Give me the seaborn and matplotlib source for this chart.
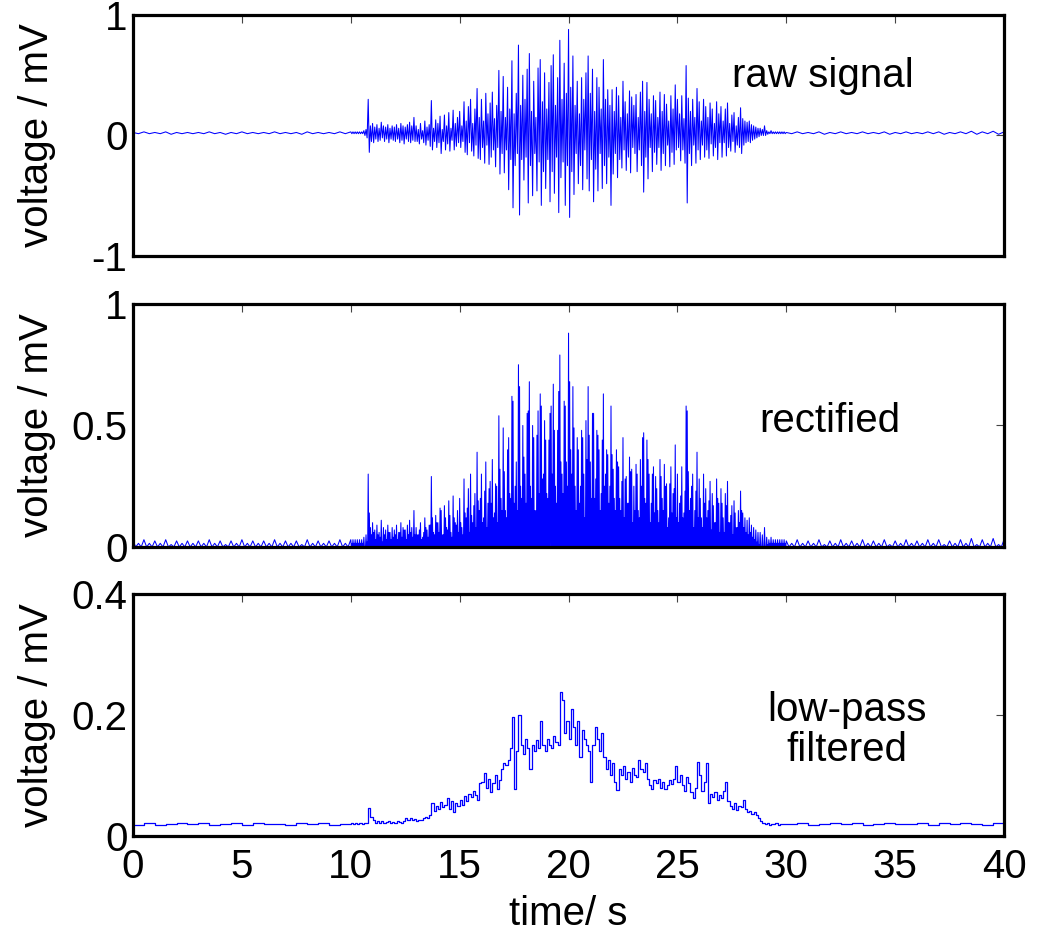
import numpy as np
import pandas as pd
import seaborn as sns
import matplotlib.pyplot as plt

# ---- raw signal, quiet part before the burst (one peak / one trough every 0.5 s, 0 - 9.5 s)
quiet_pre_hi = [0.025, 0.03, 0.025, 0.03, 0.025, 0.025, 0.025, 0.03, 0.025, 0.025,
                0.03, 0.025, 0.025, 0.03, 0.025, 0.025, 0.03, 0.025, 0.025, 0.03]
quiet_pre_lo = [0.015, 0.015, 0.015, 0.01, 0.015, 0.015, 0.015, 0.015, 0.01, 0.015,
                0.015, 0.015, 0.015, 0.015, 0.015, 0.01, 0.015, 0.015, 0.015, 0.015]

# ---- raw signal, burst part (one peak / one trough every 0.1 s, 10.0 - 29.9 s)
burst_hi = [
    0.03, 0.03, 0.03, 0.03, 0.03, 0.03, 0.04, 0.05, 0.30, 0.08,   # 10 s
    0.10, 0.07, 0.09, 0.06, 0.11, 0.08, 0.07, 0.09, 0.06, 0.08,   # 11 s
    0.07, 0.09, 0.06, 0.10, 0.08, 0.07, 0.09, 0.11, 0.08, 0.15,   # 12 s
    0.08, 0.05, 0.10, 0.04, 0.12, 0.07, 0.09, 0.29, 0.06, 0.13,   # 13 s
    0.10, 0.16, 0.05, 0.17, 0.08, 0.19, 0.06, 0.21, 0.10, 0.15,   # 14 s
    0.20, 0.08, 0.28, 0.12, 0.24, 0.30, 0.10, 0.22, 0.39, 0.15,   # 15 s
    0.30, 0.12, 0.35, 0.18, 0.27, 0.36, 0.14, 0.25, 0.54, 0.20,   # 16 s
    0.49, 0.15, 0.40, 0.22, 0.62, 0.18, 0.35, 0.75, 0.25, 0.50,   # 17 s
    0.30, 0.55, 0.68, 0.20, 0.45, 0.15, 0.56, 0.63, 0.28, 0.52,   # 18 s
    0.22, 0.44, 0.58, 0.67, 0.25, 0.48, 0.79, 0.30, 0.60, 0.35,   # 19 s
    0.88, 0.40, 0.66, 0.25, 0.45, 0.18, 0.48, 0.30, 0.52, 0.66,   # 20 s
    0.35, 0.55, 0.20, 0.48, 0.40, 0.22, 0.63, 0.30, 0.38, 0.25,   # 21 s
    0.38, 0.20, 0.40, 0.33, 0.15, 0.45, 0.28, 0.18, 0.37, 0.32,   # 22 s
    0.25, 0.34, 0.15, 0.36, 0.45, 0.20, 0.44, 0.30, 0.18, 0.33,   # 23 s
    0.29, 0.15, 0.36, 0.20, 0.34, 0.26, 0.12, 0.33, 0.22, 0.42,   # 24 s
    0.30, 0.18, 0.33, 0.14, 0.58, 0.31, 0.20, 0.30, 0.15, 0.39,   # 25 s
    0.28, 0.12, 0.30, 0.24, 0.15, 0.27, 0.22, 0.10, 0.28, 0.18,   # 26 s
    0.24, 0.12, 0.22, 0.27, 0.10, 0.17, 0.19, 0.08, 0.15, 0.23,   # 27 s
    0.14, 0.12, 0.11, 0.12, 0.09, 0.08, 0.07, 0.06, 0.06, 0.05,   # 28 s
    0.08, 0.04, 0.03, 0.04, 0.03, 0.03, 0.03, 0.03, 0.03, 0.03,   # 29 s
]
burst_lo = [
    0.015, 0.015, 0.015, 0.015, 0.015, 0.015, 0.00, -0.02, -0.14, -0.05,
    -0.06, -0.03, -0.05, -0.04, -0.02, -0.05, -0.03, -0.06, -0.03, -0.04,
    -0.05, -0.03, -0.06, -0.04, -0.07, -0.03, -0.05, -0.06, -0.04, -0.05,
    -0.05, -0.07, -0.03, -0.06, -0.08, -0.04, -0.09, -0.12, -0.05, -0.10,
    -0.06, -0.15, -0.05, -0.12, -0.07, -0.13, -0.04, -0.12, -0.09, -0.06,
    -0.10, -0.05, -0.14, -0.16, -0.06, -0.13, -0.17, -0.08, -0.19, -0.20,
    -0.10, -0.23, -0.08, -0.24, -0.18, -0.12, -0.26, -0.10, -0.32, -0.15,
    -0.31, -0.12, -0.45, -0.20, -0.60, -0.25, -0.15, -0.66, -0.20, -0.37,
    -0.18, -0.56, -0.25, -0.50, -0.15, -0.46, -0.22, -0.58, -0.30, -0.44,
    -0.20, -0.55, -0.30, -0.48, -0.18, -0.64, -0.35, -0.22, -0.58, -0.25,
    -0.68, -0.30, -0.49, -0.15, -0.40, -0.25, -0.45, -0.12, -0.36, -0.46,
    -0.20, -0.55, -0.28, -0.46, -0.15, -0.44, -0.25, -0.40, -0.18, -0.58,
    -0.32, -0.15, -0.35, -0.20, -0.27, -0.12, -0.29, -0.18, -0.31, -0.10,
    -0.15, -0.30, -0.12, -0.25, -0.47, -0.18, -0.36, -0.10, -0.30, -0.14,
    -0.24, -0.10, -0.29, -0.15, -0.25, -0.08, -0.26, -0.14, -0.24, -0.12,
    -0.10, -0.21, -0.12, -0.23, -0.56, -0.15, -0.25, -0.08, -0.23, -0.12,
    -0.20, -0.08, -0.18, -0.12, -0.19, -0.07, -0.17, -0.10, -0.20, -0.06,
    -0.18, -0.06, -0.17, -0.10, -0.13, -0.05, -0.14, -0.08, -0.10, -0.15,
    -0.08, -0.06, -0.05, -0.06, -0.04, -0.03, -0.02, -0.01, 0.00, 0.00,
    0.00, 0.01, 0.015, 0.015, 0.015, 0.015, 0.015, 0.015, 0.015, 0.015,
]

# ---- raw signal, quiet part after the burst (every 0.5 s, 30 - 40 s)
quiet_post_hi = [0.025, 0.03, 0.025, 0.03, 0.025, 0.03, 0.025, 0.03, 0.025, 0.03,
                 0.025, 0.03, 0.025, 0.03, 0.03, 0.025, 0.03, 0.035, 0.03, 0.035, 0.03]
quiet_post_lo = [0.015, 0.015, 0.015, 0.01, 0.015, 0.015, 0.015, 0.015, 0.015, 0.01,
                 0.015, 0.015, 0.015, 0.015, 0.01, 0.015, 0.015, 0.01, 0.015, 0.01, 0.015]

# ---- low-pass filtered envelope
lp_pre = [0.018, 0.021, 0.018, 0.020, 0.022, 0.019, 0.021, 0.018, 0.020, 0.021,
          0.018, 0.022, 0.019, 0.020, 0.018, 0.021, 0.019, 0.022, 0.018, 0.020]
lp_burst = [
    0.021, 0.020, 0.022, 0.020, 0.021, 0.020, 0.022, 0.021, 0.046, 0.032,
    0.026, 0.022, 0.025, 0.021, 0.024, 0.022, 0.023, 0.025, 0.022, 0.023,
    0.022, 0.024, 0.023, 0.022, 0.024, 0.030, 0.027, 0.029, 0.026, 0.028,
    0.025, 0.027, 0.026, 0.029, 0.031, 0.030, 0.034, 0.054, 0.042, 0.050,
    0.044, 0.057, 0.048, 0.052, 0.062, 0.045, 0.058, 0.040, 0.055, 0.050,
    0.060, 0.052, 0.066, 0.058, 0.070, 0.064, 0.075, 0.068, 0.060, 0.088,
    0.090, 0.104, 0.080, 0.095, 0.072, 0.088, 0.100, 0.078, 0.092, 0.110,
    0.120, 0.118, 0.125, 0.145, 0.196, 0.077, 0.140, 0.200, 0.150, 0.135,
    0.160, 0.145, 0.110, 0.150, 0.140, 0.158, 0.145, 0.190, 0.150, 0.140,
    0.160, 0.150, 0.145, 0.165, 0.155, 0.150, 0.238, 0.225, 0.170, 0.190,
    0.160, 0.210, 0.180, 0.150, 0.190, 0.130, 0.175, 0.160, 0.150, 0.140,
    0.090, 0.150, 0.180, 0.160, 0.140, 0.170, 0.130, 0.110, 0.125, 0.100,
    0.120, 0.090, 0.076, 0.110, 0.100, 0.115, 0.095, 0.105, 0.090, 0.112,
    0.100, 0.098, 0.125, 0.110, 0.105, 0.120, 0.095, 0.085, 0.078, 0.092,
    0.088, 0.095, 0.080, 0.090, 0.077, 0.085, 0.093, 0.086, 0.095, 0.115,
    0.090, 0.100, 0.085, 0.075, 0.098, 0.088, 0.072, 0.062, 0.080, 0.123,
    0.100, 0.075, 0.090, 0.120, 0.055, 0.070, 0.065, 0.072, 0.060, 0.068,
    0.062, 0.075, 0.090, 0.058, 0.050, 0.045, 0.055, 0.043, 0.050, 0.048,
    0.060, 0.045, 0.040, 0.042, 0.036, 0.040, 0.035, 0.030, 0.025, 0.022,
    0.020, 0.021, 0.018, 0.020, 0.019, 0.021, 0.018, 0.020, 0.019, 0.020,
]
lp_post = [0.019, 0.021, 0.018, 0.020, 0.022, 0.019, 0.021, 0.018, 0.020, 0.022,
           0.019, 0.020, 0.022, 0.018, 0.021, 0.019, 0.022, 0.020, 0.018, 0.021, 0.020]

# sample times of each segment
t_pre = np.arange(len(quiet_pre_hi)) * 0.5
t_burst = 10 + np.arange(len(burst_hi)) * 0.1
t_post = 30 + np.arange(len(quiet_post_hi)) * 0.5


def spikes(t, hi, lo, dt):
    # peak at t, trough half a step later
    tt = np.column_stack([t, t + dt / 2]).ravel()
    vv = np.column_stack([hi, lo]).ravel()
    return tt, vv


parts = [spikes(t_pre, quiet_pre_hi, quiet_pre_lo, 0.5),
         spikes(t_burst, burst_hi, burst_lo, 0.1),
         spikes(t_post, quiet_post_hi, quiet_post_lo, 0.5)]
raw_t = np.concatenate([p[0] for p in parts])
raw_v = np.concatenate([p[1] for p in parts])
raw = pd.DataFrame({'t': raw_t, 'v': raw_v})

# rectified: |raw|, dropping back to zero between successive extremes
mid_t = (raw_t[:-1] + raw_t[1:]) / 2
rect_t = np.column_stack([raw_t[:-1], mid_t]).ravel()
rect_v = np.column_stack([np.abs(raw_v[:-1]), np.zeros(len(mid_t))]).ravel()
rect = pd.DataFrame({'t': rect_t, 'v': rect_v})

lowpass = pd.DataFrame({'t': np.concatenate([t_pre, t_burst, t_post]),
                        'v': np.concatenate([lp_pre, lp_burst, lp_post])})

sns.set_style('white')
plt.rcParams['font.family'] = ['Liberation Sans', 'DejaVu Sans']
plt.rcParams['text.color'] = 'black'
plt.rcParams['axes.labelcolor'] = 'black'
plt.rcParams['xtick.color'] = 'black'
plt.rcParams['ytick.color'] = 'black'

fig = plt.figure(figsize=(10.55, 9.35), dpi=100)
ax1 = fig.add_axes([0.1261, 0.7262, 0.8256, 0.2578])
ax2 = fig.add_axes([0.1261, 0.4150, 0.8256, 0.2599])
ax3 = fig.add_axes([0.1261, 0.1059, 0.8256, 0.2588])

line_kw = dict(x='t', y='v', color='#0000ff', estimator=None, sort=False)
sns.lineplot(data=raw, ax=ax1, lw=0.75, **line_kw)
sns.lineplot(data=rect, ax=ax2, lw=0.75, **line_kw)
sns.lineplot(data=lowpass, ax=ax3, lw=0.9, drawstyle='steps-post', **line_kw)

fs = 29
setup = [
    (ax1, (-1, 1), [-1, 0, 1], ['-1', '0', '1']),
    (ax2, (0, 1), [0, 0.5, 1], ['0', '0.5', '1']),
    (ax3, (0, 0.4), [0, 0.2, 0.4], ['0', '0.2', '0.4']),
]
for ax, ylim, yt, yl in setup:
    ax.set_xlim(0, 40)
    ax.set_ylim(*ylim)
    ax.set_xticks(range(0, 41, 5))
    ax.set_yticks(yt)
    ax.set_yticklabels(yl)
    ax.tick_params(direction='in', top=True, right=True, length=6, width=0.8,
                   color='#444444', labelsize=fs, labelcolor='black')
    ax.tick_params(axis='y', pad=4)
    ax.tick_params(axis='x', pad=9)
    for s in ax.spines.values():
        s.set_linewidth(2.3)
        s.set_color('black')
    ax.set_ylabel('voltage / mV', fontsize=fs)
    ax.yaxis.set_label_coords(-0.088, 0.5)
    ax.set_xlabel('')
    ax.grid(False)

ax1.tick_params(axis='x', labelbottom=False)
ax2.tick_params(axis='x', labelbottom=False)
ax3.set_xlabel('time/ s', fontsize=fs)
ax3.xaxis.set_label_coords(0.5, -0.245)

ax1.text(31.7, 0.49, 'raw signal', fontsize=fs, ha='center', va='center')
ax2.text(32.0, 0.52, 'rectified', fontsize=fs, ha='center', va='center')
ax3.text(32.8, 0.175, 'low-pass\nfiltered', fontsize=fs, ha='center', va='center',
         linespacing=1.05)

plt.savefig('out.png', dpi=100)
plt.close()
